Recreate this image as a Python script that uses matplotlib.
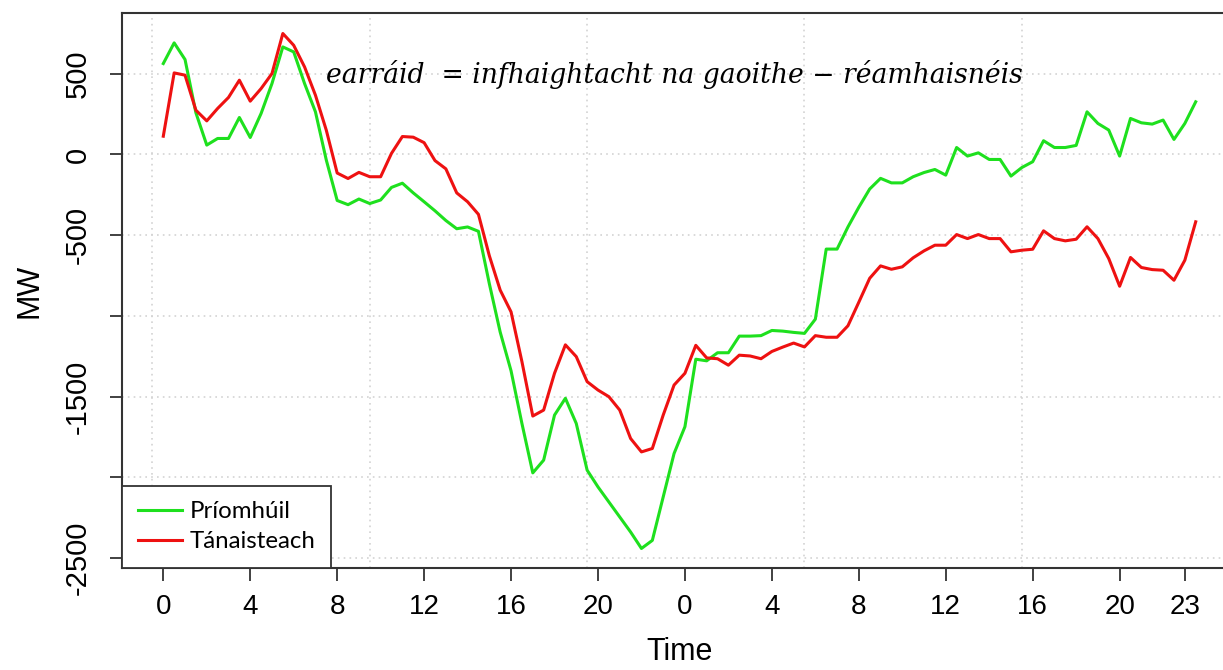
import matplotlib
matplotlib.use("Agg")
import matplotlib.pyplot as plt
import numpy as np

# half-hourly points over two days (hours since start)
hours = np.arange(96) * 0.5

primomhuil = [
    563, 691, 588, 258, 58, 99, 99, 229, 105, 254, 439, 666, 635, 439, 264, -35,
    -285, -311, -276, -304, -282, -204, -178, -238, -293, -349, -409, -460, -449, -476, -800, -1100,
    -1340, -1666, -1972, -1893, -1614, -1510, -1666, -1955, -2059, -2152, -2245, -2338, -2440, -2390, -2121, -1852,
    -1686, -1268, -1278, -1228, -1228, -1125, -1125, -1122, -1090, -1094, -1102, -1108, -1020, -586, -586, -449,
    -327, -214, -148, -176, -176, -138, -112, -93, -128, 43, -10, 10, -31, -31, -134, -81,
    -45, 85, 43, 43, 56, 264, 192, 151, -10, 223, 196, 188, 213, 93, 192, 326,
]
tanaisteach = [
    113, 505, 491, 274, 208, 285, 353, 460, 330, 408, 501, 749, 676, 542, 367, 150,
    -115, -149, -111, -138, -138, 7, 111, 107, 73, -38, -89, -238, -293, -371, -627, -840,
    -975, -1283, -1620, -1583, -1355, -1179, -1252, -1407, -1459, -1500, -1583, -1759, -1842, -1821, -1614, -1428,
    -1355, -1182, -1260, -1265, -1305, -1243, -1248, -1265, -1220, -1193, -1168, -1192, -1122, -1132, -1132, -1061,
    -915, -767, -690, -711, -696, -640, -597, -562, -562, -496, -521, -496, -521, -521, -603, -593,
    -587, -473, -521, -535, -525, -448, -521, -645, -816, -638, -700, -713, -717, -779, -655, -417,
]

xtick_pos = [0, 4, 8, 12, 16, 20, 24, 28, 32, 36, 40, 44, 47]
xtick_lab = ["0", "4", "8", "12", "16", "20", "0", "4", "8", "12", "16", "20", "23"]
ytick_pos = [500, 0, -500, -1000, -1500, -2000, -2500]
ytick_lab = ["500", "0", "-500", "", "-1500", "", "-2500"]

plt.rcParams["font.family"] = ["Liberation Sans", "DejaVu Sans"]

W, H = 1223, 670
fig = plt.figure(figsize=(W / 100, H / 100), dpi=100)
left, right, top, bottom = 122, 1237, 13, 568
ax = fig.add_axes([left / W, 1 - bottom / H, (right - left) / W, (bottom - top) / H])

ax.set_xlim(-1.9, 49.4)
ax.set_ylim(-2561, 876)

# R-style grid: dotted light gray
for gx in [-0.5, 9.5, 19.5, 29.5, 39.5]:
    ax.axvline(gx, color="lightgray", linestyle=(0, (1, 2.5)), linewidth=1.2, zorder=0)
for gy in ytick_pos:
    ax.axhline(gy, color="lightgray", linestyle=(0, (1, 2.5)), linewidth=1.2, zorder=0)

ax.plot(hours, primomhuil, color="#1ee01e", linewidth=2.2, label="Príomhúil", zorder=3)
ax.plot(hours, tanaisteach, color="#ee1111", linewidth=2.2, label="Tánaisteach", zorder=3)

ax.set_xticks(xtick_pos)
ax.set_xticklabels(xtick_lab)
ax.set_yticks(ytick_pos)
ax.set_yticklabels(ytick_lab, rotation=90, va="center")
ax.tick_params(axis="both", direction="out", length=9, width=1.3, color="#333333")
ax.tick_params(axis="x", labelsize=20, pad=10)
ax.tick_params(axis="y", labelsize=21, pad=13)

for s in ax.spines.values():
    s.set_color("#333333")
    s.set_linewidth(1.5)

ax.set_xlabel("Time", fontsize=22, labelpad=12)
ax.set_ylabel("MW", fontsize=22, labelpad=14)

ax.text(7.5, 441, "earráid  = infhaightacht na gaoithe − réamhaisnéis",
        family="DejaVu Serif", style="italic", fontsize=19.2, ha="left", va="baseline", zorder=4)

leg = ax.legend(loc="lower left", bbox_to_anchor=(0, 0), borderaxespad=0,
                fancybox=False, edgecolor="#333333", framealpha=1,
                prop={"family": "Lato", "size": 17.3}, handlelength=1.85,
                borderpad=0.65, labelspacing=0.38, handletextpad=0.3)
leg.get_frame().set_linewidth(1.3)
leg.set_zorder(5)

fig.savefig("out.png", dpi=100)
